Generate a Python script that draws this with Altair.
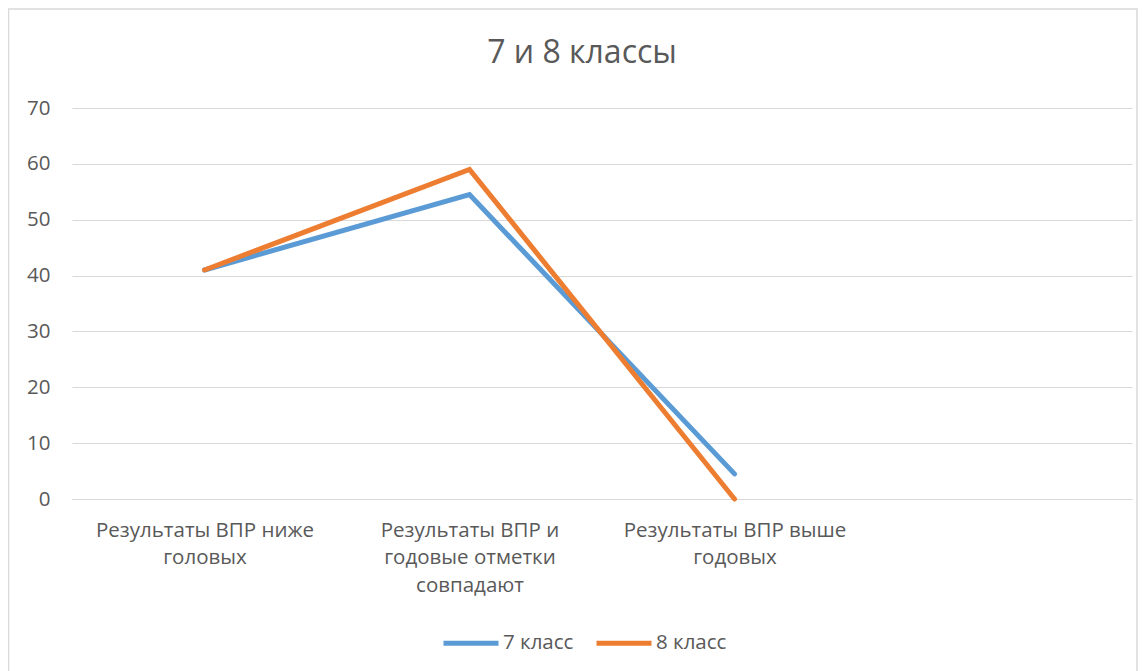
import altair as alt
import pandas as pd

categories = [
    "Результаты ВПР ниже|головых",
    "Результаты ВПР и|годовые отметки|совпадают",
    "Результаты ВПР выше|годовых",
]
domain_cats = categories + [""]
series = ["7 класс", "8 класс"]
values_7 = [41, 54.5, 4.5]
values_8 = [41, 59, 0]
colors = ["#5B9BD5", "#ED7D31"]
y_ticks = [0, 10, 20, 30, 40, 50, 60, 70]
title_text = "7 и 8 классы"

rows = []
for s, vals in zip(series, [values_7, values_8]):
    for c, v in zip(categories, vals):
        rows.append({"cat": c, "series": s, "value": v})
df = pd.DataFrame(rows)

FONT = "Open Sans"
TXT = "#595959"
GRID = "#d9d9d9"
FS = 20.5

W, H = 1060, 391

lines = alt.Chart(df).mark_line(strokeWidth=5, strokeCap="round", strokeJoin="miter").encode(
    x=alt.X("cat:N", scale=alt.Scale(domain=domain_cats, paddingInner=0, paddingOuter=0),
            title=None,
            axis=alt.Axis(labelExpr="split(datum.label, '|')", labelAngle=0, ticks=False,
                          domainColor=GRID, domainWidth=1, labelFontSize=FS, labelColor=TXT,
                          labelFont=FONT, labelLineHeight=27.5, labelLimit=400, labelPadding=21,
                          labelBaseline="top", grid=False)),
    y=alt.Y("value:Q", scale=alt.Scale(domain=[0, 70], nice=False), title=None,
            axis=alt.Axis(values=y_ticks, domain=False, ticks=False, gridColor=GRID, gridWidth=1,
                          labelFontSize=FS, labelColor=TXT, labelFont=FONT, labelPadding=22)),
    color=alt.Color("series:N", scale=alt.Scale(domain=series, range=colors), title=None,
                    legend=alt.Legend(orient="none", legendX=369, legendY=505, direction="horizontal",
                                      symbolType="stroke", symbolSize=3025, symbolStrokeWidth=5,
                                      labelFontSize=FS, labelColor=TXT, labelFont=FONT,
                                      labelOffset=2, columnPadding=12)),
)

border = alt.Chart(pd.DataFrame({"a": [0]})).mark_rect(fill=None, stroke=GRID, strokeWidth=1.5).encode(
    x=alt.value(-63.5), x2=alt.value(1065), y=alt.value(-99), y2=alt.value(700)
)

title = alt.Chart(pd.DataFrame({"t": [title_text]})).mark_text(
    fontSize=32, font=FONT, color=TXT, align="center", baseline="middle"
).encode(text="t:N", x=alt.value(510), y=alt.value(-55))

chart = alt.layer(border, lines, title).properties(
    width=W, height=H,
    padding={"left": 64, "top": 100, "right": 6, "bottom": 172},
    autosize=alt.AutoSizeParams(type="none"),
).configure_view(stroke=None)

chart.save("out.html", embed_options={"renderer": "svg", "actions": False})
